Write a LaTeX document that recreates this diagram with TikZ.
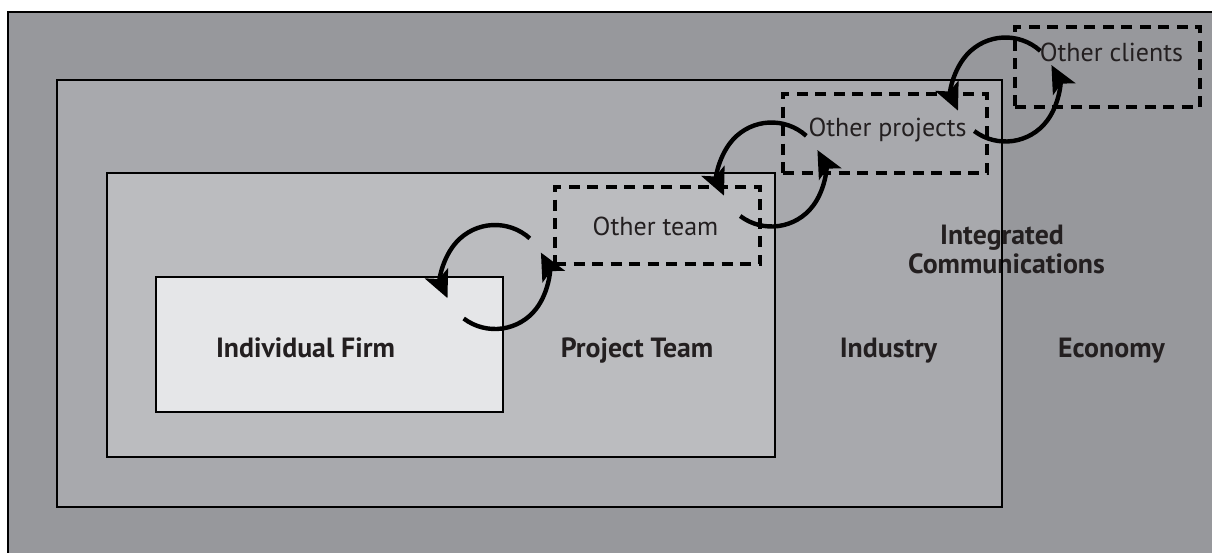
\documentclass[tikz,border=0pt]{standalone}
\usepackage{fontspec}
\setmainfont{PT Sans}
\usetikzlibrary{arrows.meta}

\definecolor{econfill}{HTML}{97989C}
\definecolor{indfill}{HTML}{A8A9AD}
\definecolor{projfill}{HTML}{BBBCBF}
\definecolor{firmfill}{HTML}{E5E6E8}
\definecolor{inktext}{HTML}{231F20}

\tikzset{
  area/.style={inner sep=0pt, outer sep=0pt, anchor=north west},
  frame/.style={draw=black, line width=1.6pt},
  levellabel/.style={font=\bfseries\fontsize{27.8}{29}\selectfont, text=inktext, anchor=base, inner sep=0pt},
  otherlabel/.style={font=\fontsize{26}{28}\selectfont, text=inktext, anchor=base, inner sep=0pt},
  otherbox/.style={draw=black, line width=4pt, dash pattern=on 11pt off 7.5pt},
  loop/.style={draw=black, line width=4.4pt, -{Stealth[length=27pt, width=25pt, inset=6pt]}}
}

\begin{document}
\begin{tikzpicture}[x=1pt, y=-1pt]
  \clip (0,0) rectangle (1212,552);
  \fill[white] (0,0) rectangle (1212,552);

  % nested levels
  \node[area, fill=econfill, minimum width=1230, minimum height=560] (economy) at (8,12) {};
  \node[area, fill=indfill, minimum width=945, minimum height=427] (industry) at (57,80) {};
  \node[area, fill=projfill, minimum width=668, minimum height=284] (project) at (107,173) {};
  \node[area, fill=firmfill, minimum width=347, minimum height=135] (firm) at (156,277) {};

  % level names
  \node[levellabel] (lfirm) at (305.5,357) {Individual Firm};
  \node[levellabel] (lproj) at (637,357) {Project Team};
  \node[levellabel] (lind) at (888.5,357) {Industry};
  \node[levellabel] (lecon) at (1111.5,357) {Economy};
  \node[levellabel] (lint) at (1002,244) {Integrated};
  \node[levellabel] (lcomm) at (1006.5,273) {Communications};

  % borders of the levels
  \draw[frame, line width=2.2pt] (economy.north west) rectangle (economy.south east);
  \foreach \b in {industry, project, firm}
    \draw[frame] (\b.north west) rectangle (\b.south east);

  % outside partners
  \node[area, otherbox, minimum width=205, minimum height=77] (oteam) at (555,187) {};
  \node[area, otherbox, minimum width=204, minimum height=79] (oproj) at (783,94) {};
  \node[area, otherbox, minimum width=185, minimum height=80] (oclient) at (1015,27) {};

  \node[otherlabel] (toteam) at (655.5,235) {Other team};
  \node[otherlabel] (toproj) at (887.5,136) {Other projects};
  \node[otherlabel] (toclient) at (1111.5,61) {Other clients};

  % exchange loops
  \coordinate (c1) at (495,277);
  \coordinate (c2) at (771.5,174.5);
  \coordinate (c3) at (1005.5,89.5);
  \foreach \c in {c1, c2, c3} {
    \draw[loop] (\c) ++(-48:52) arc[start angle=-48, end angle=-204, radius=52];
    \draw[loop] (\c) ++(-233:52) arc[start angle=-233, end angle=-388, radius=52];
  }
\end{tikzpicture}
\end{document}
